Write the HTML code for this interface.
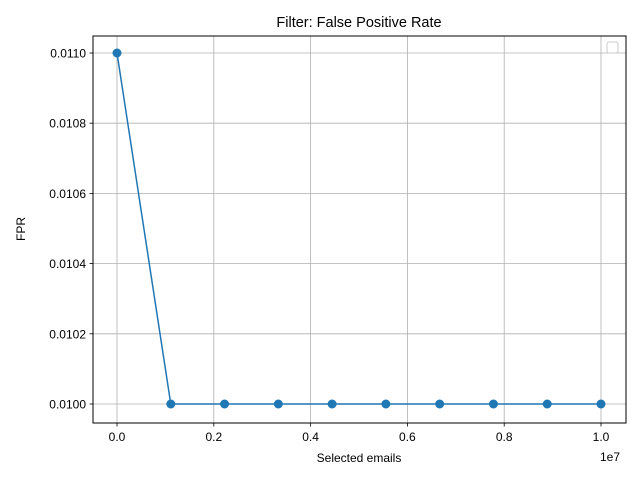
<!DOCTYPE html>
<html><head><meta charset="utf-8"><style>
body{margin:0;background:#fff;}
svg{display:block;font-family:"Liberation Sans","DejaVu Sans",sans-serif;}
</style></head><body>
<svg id="chart" width="640" height="480" viewBox="0 0 640 480">
<rect width="640" height="480" fill="#fff"/>
<text x="359" y="27" text-anchor="middle" font-size="14.5">Filter: False Positive Rate</text>
<g id="grid"></g>
<g id="series"></g>
<rect x="93" y="36" width="533" height="387" fill="none" stroke="#000" stroke-width="1"/>
<g id="ticks"></g>
<text x="359" y="462" text-anchor="middle" font-size="12">Selected emails</text>
<text x="600" y="461" font-size="12">1e7</text>
<text transform="translate(25,229) rotate(-90)" text-anchor="middle" font-size="12">FPR</text>
<rect x="607" y="42" width="11" height="11" rx="2" fill="#fff" stroke="#ccc"/>
</svg>
<script>
const xValues=[0,1111111,2222222,3333333,4444444,5555556,6666667,7777778,8888889,10000000];
const yValues=[0.0110,0.0100,0.0100,0.0100,0.0100,0.0100,0.0100,0.0100,0.0100,0.0100];
const xTicks=[0,0.2e7,0.4e7,0.6e7,0.8e7,1.0e7];
const xTickLabels=["0.0","0.2","0.4","0.6","0.8","1.0"];
const yTicks=[0.0100,0.0102,0.0104,0.0106,0.0108,0.0110];
const yTickLabels=["0.0100","0.0102","0.0104","0.0106","0.0108","0.0110"];
const NS="http://www.w3.org/2000/svg";
function sx(v){return 117+(v/1e7)*484;}
function sy(v){return 404-(v-0.0100)/0.001*351;}
function mk(tag,attrs,parent){const e=document.createElementNS(NS,tag);for(const k in attrs)e.setAttribute(k,attrs[k]);document.getElementById(parent).appendChild(e);return e;}
xTicks.forEach((t,i)=>{const x=sx(t);
 let g=mk('line',{x1:x,x2:x,y1:36,y2:423,stroke:'#b0b0b0','stroke-width':0.8},'grid');
 
 
 let tk=mk('line',{x1:x,x2:x,y1:423,y2:426.5,stroke:'#000','stroke-width':0.8},'ticks');
 
 
 let tx=mk('text',{x:x,y:441,'text-anchor':'middle','font-size':12},'ticks');tx.textContent=xTickLabels[i];
 
 
});
yTicks.forEach((t,i)=>{const y=sy(t);
 let g=mk('line',{x1:93,x2:626,y1:y,y2:y,stroke:'#b0b0b0','stroke-width':0.8},'grid');
 
 
 let tk=mk('line',{x1:89.5,x2:93,y1:y,y2:y,stroke:'#000','stroke-width':0.8},'ticks');
 
 
 let tx=mk('text',{x:86,y:y+4.5,'text-anchor':'end','font-size':12},'ticks');tx.textContent=yTickLabels[i];
 
 
});
const pts=xValues.map((v,i)=>sx(v)+','+sy(yValues[i])).join(' ');
let line=mk('polyline',{points:pts,fill:'none',stroke:'#1f77b4','stroke-width':1.5},'series');


xValues.forEach((v,i)=>{
 let c=mk('circle',{cx:sx(v),cy:sy(yValues[i]),r:4.5,fill:'#1f77b4'},'series');
 
 
});
</script>
</body></html>
